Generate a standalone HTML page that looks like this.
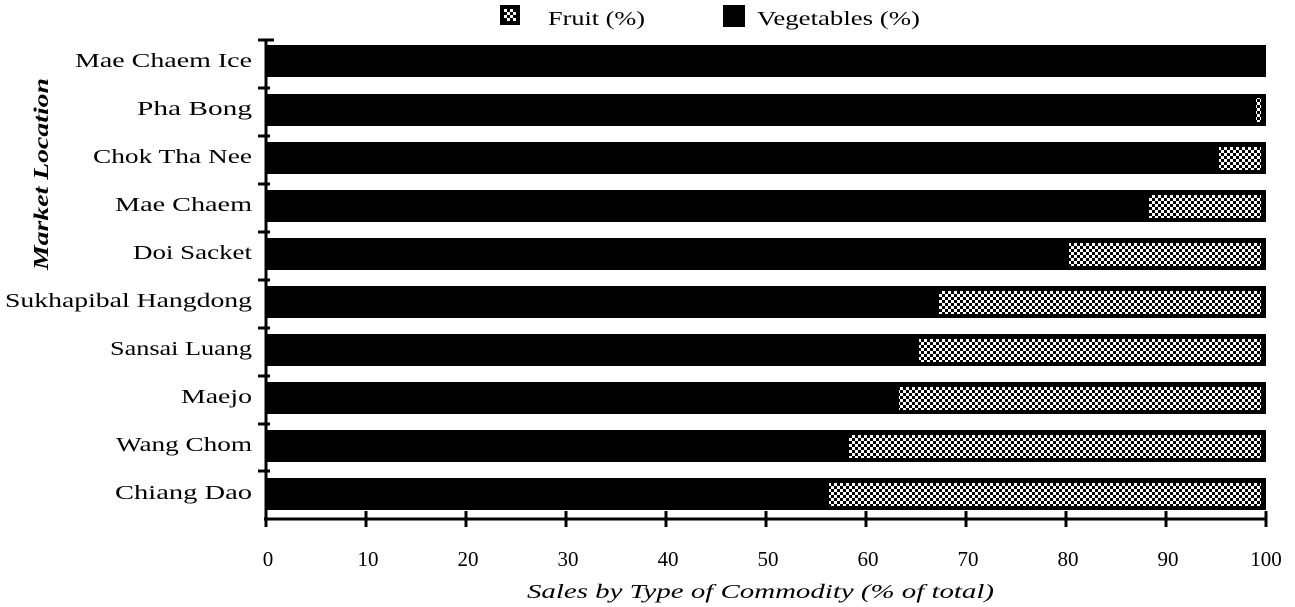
<!DOCTYPE html>
<html><head><meta charset="utf-8"><style>
html,body{margin:0;padding:0;background:#fff;}
svg{display:block;font-family:"Liberation Serif",serif;}
</style></head><body>
<svg width="1295" height="607" viewBox="0 0 1295 607" xmlns="http://www.w3.org/2000/svg">
<defs>
<pattern id="chk" width="6" height="6" patternUnits="userSpaceOnUse">
<rect width="6" height="6" fill="#fff"/>
<rect x="0" y="0" width="3" height="3" fill="#000"/>
<rect x="3" y="3" width="3" height="3" fill="#000"/>
</pattern>
</defs>
<!-- legend -->
<rect x="500" y="5" width="20" height="20" fill="#000"/>
<rect x="504" y="9" width="12" height="12" fill="url(#chk)"/>
<text x="548" y="25" font-size="20" textLength="97" lengthAdjust="spacingAndGlyphs">Fruit (%)</text>
<rect x="723" y="5" width="22" height="22" fill="#000"/>
<text x="757" y="25" font-size="20" textLength="163" lengthAdjust="spacingAndGlyphs">Vegetables (%)</text>

<!-- y title -->
<text transform="translate(48,174) rotate(-90)" text-anchor="middle" font-size="21" font-style="italic" font-weight="bold" textLength="192" lengthAdjust="spacingAndGlyphs">Market  Location</text>

<g>
<rect x="266" y="45" width="1000" height="32" fill="#000"/>
<rect x="266" y="94" width="1000" height="32" fill="#000"/>
<rect x="266" y="142" width="1000" height="32" fill="#000"/>
<rect x="266" y="190" width="1000" height="32" fill="#000"/>
<rect x="266" y="238" width="1000" height="32" fill="#000"/>
<rect x="266" y="286" width="1000" height="32" fill="#000"/>
<rect x="266" y="334" width="1000" height="32" fill="#000"/>
<rect x="266" y="382" width="1000" height="32" fill="#000"/>
<rect x="266" y="430" width="1000" height="32" fill="#000"/>
<rect x="266" y="478" width="1000" height="32" fill="#000"/>
</g>
<g fill="url(#chk)">
<rect x="1256" y="98" width="5" height="24"/>
<rect x="1219" y="147" width="42" height="23"/>
<rect x="1149" y="195" width="112" height="23"/>
<rect x="1069" y="243" width="192" height="23"/>
<rect x="939" y="291" width="322" height="23"/>
<rect x="919" y="339" width="342" height="23"/>
<rect x="899" y="387" width="362" height="23"/>
<rect x="849" y="435" width="412" height="23"/>
<rect x="829" y="483" width="432" height="23"/>
</g>

<line x1="266" y1="40" x2="266" y2="527" stroke="#000" stroke-width="3"/>
<line x1="264" y1="519" x2="1267" y2="519" stroke="#000" stroke-width="3"/>
<g stroke="#000" stroke-width="3">
<line x1="258" y1="40" x2="274" y2="40"/>
<line x1="258" y1="88" x2="270" y2="88"/>
<line x1="258" y1="136" x2="270" y2="136"/>
<line x1="258" y1="184" x2="270" y2="184"/>
<line x1="258" y1="232" x2="270" y2="232"/>
<line x1="258" y1="280" x2="270" y2="280"/>
<line x1="258" y1="328" x2="270" y2="328"/>
<line x1="258" y1="376" x2="270" y2="376"/>
<line x1="258" y1="424" x2="270" y2="424"/>
<line x1="258" y1="471" x2="270" y2="471"/>
<line x1="366" y1="511" x2="366" y2="527"/>
<line x1="466" y1="511" x2="466" y2="527"/>
<line x1="566" y1="511" x2="566" y2="527"/>
<line x1="666" y1="511" x2="666" y2="527"/>
<line x1="766" y1="511" x2="766" y2="527"/>
<line x1="866" y1="511" x2="866" y2="527"/>
<line x1="966" y1="511" x2="966" y2="527"/>
<line x1="1066" y1="511" x2="1066" y2="527"/>
<line x1="1166" y1="511" x2="1166" y2="527"/>
<line x1="1266" y1="511" x2="1266" y2="527"/>
</g>

<g font-size="20" lengthAdjust="spacingAndGlyphs">
<text x="75" y="67" textLength="177" lengthAdjust="spacingAndGlyphs">Mae Chaem Ice</text>
<text x="137" y="115" textLength="115" lengthAdjust="spacingAndGlyphs">Pha Bong</text>
<text x="93" y="163" textLength="159" lengthAdjust="spacingAndGlyphs">Chok Tha Nee</text>
<text x="115" y="211" textLength="137" lengthAdjust="spacingAndGlyphs">Mae Chaem</text>
<text x="133" y="259" textLength="119" lengthAdjust="spacingAndGlyphs">Doi Sacket</text>
<text x="5" y="307" textLength="247" lengthAdjust="spacingAndGlyphs">Sukhapibal Hangdong</text>
<text x="110" y="355" textLength="142" lengthAdjust="spacingAndGlyphs">Sansai Luang</text>
<text x="181" y="403" textLength="71" lengthAdjust="spacingAndGlyphs">Maejo</text>
<text x="116" y="451" textLength="136" lengthAdjust="spacingAndGlyphs">Wang Chom</text>
<text x="115" y="499" textLength="137" lengthAdjust="spacingAndGlyphs">Chiang Dao</text>
</g>

<g font-size="21" text-anchor="middle">
<text x="268" y="566">0</text>
<text x="368" y="566">10</text>
<text x="468" y="566">20</text>
<text x="568" y="566">30</text>
<text x="668" y="566">40</text>
<text x="768" y="566">50</text>
<text x="868" y="566">60</text>
<text x="968" y="566">70</text>
<text x="1068" y="566">80</text>
<text x="1168" y="566">90</text>
<text x="1266" y="566">100</text>
</g>
<text x="527" y="598" font-size="20" font-style="italic" textLength="467" lengthAdjust="spacingAndGlyphs">Sales  by  Type  of  Commodity  (% of  total)</text>
</svg>
</body></html>
